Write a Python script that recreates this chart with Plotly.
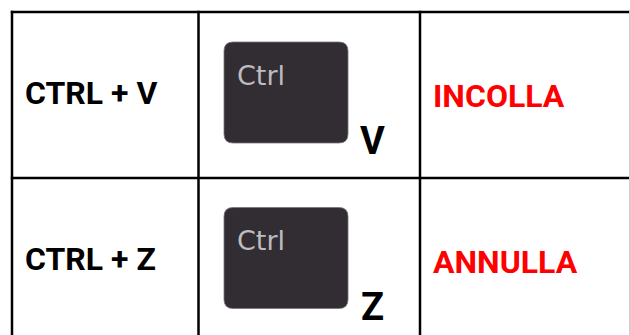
import plotly.graph_objects as go

shortcuts = ["CTRL + V", "CTRL + Z"]
key_letters = ["V", "Z"]
actions = ["INCOLLA", "ANNULLA"]
key_label = "Ctrl"

W, H = 630, 335
v_lines = [12, 198.5, 420]
h_lines = [12, 178]
row_tops = [0, 165.5]
INK = "#000000"
KEY = "#312d33"
RED = "#ff0000"


def rounded(x0, y0, x1, y1, r):
    return (f"M{x0+r},{y0} L{x1-r},{y0} Q{x1},{y0} {x1},{y0+r} L{x1},{y1-r} Q{x1},{y1} {x1-r},{y1} "
            f"L{x0+r},{y1} Q{x0},{y1} {x0},{y1-r} L{x0},{y0+r} Q{x0},{y0} {x0+r},{y0} Z")


fig = go.Figure()
fig.add_trace(go.Scatter(x=[0, W], y=[0, H], mode="markers", marker=dict(opacity=0), hoverinfo="skip", showlegend=False))

shapes = []
for x in v_lines:
    shapes.append(dict(type="line", x0=x, x1=x, y0=10.8, y1=H, line=dict(color=INK, width=2.5)))
for y in h_lines:
    shapes.append(dict(type="line", x0=10.8, x1=W, y0=y, y1=y, line=dict(color=INK, width=2.5)))
shapes.append(dict(type="line", x0=629.5, x1=629.5, y0=11, y1=H, line=dict(color="#cccccc", width=1)))

annotations = []
for i, top in enumerate(row_tops):
    shapes.append(dict(type="path", path=rounded(224, top + 42, 348, top + 143, 9),
                       fillcolor=KEY, line=dict(color="#77747a", width=0.8)))
    annotations += [
        dict(x=23, y=top + 93, text=f"<b>{shortcuts[i]}</b>", xanchor="left", yanchor="middle", showarrow=False,
             font=dict(family="Roboto", size=32, color=INK)),
        dict(x=235, y=top + 75, text=key_label, xanchor="left", yanchor="middle", showarrow=False,
             font=dict(family="DejaVu Sans", size=27, color="#bdbcbe")),
        dict(x=372.5, y=top + 141, text=f"<b>{key_letters[i]}</b>", xanchor="center", yanchor="middle", showarrow=False,
             font=dict(family="Roboto", size=38, color=INK)),
        dict(x=431, y=top + 96, text=f"<b>{actions[i]}</b>", xanchor="left", yanchor="middle", showarrow=False,
             font=dict(family="Roboto", size=32, color=RED)),
    ]

fig.update_layout(
    width=W, height=H, margin=dict(l=0, r=0, t=0, b=0),
    paper_bgcolor="white", plot_bgcolor="white", showlegend=False,
    xaxis=dict(range=[0, W], visible=False, fixedrange=True),
    yaxis=dict(range=[H, 0], visible=False, fixedrange=True),
    shapes=shapes, annotations=annotations,
)
fig.write_html("out.html", config={"displayModeBar": False},
               post_script="document.body.style.margin='0';document.body.style.overflow='hidden';")
